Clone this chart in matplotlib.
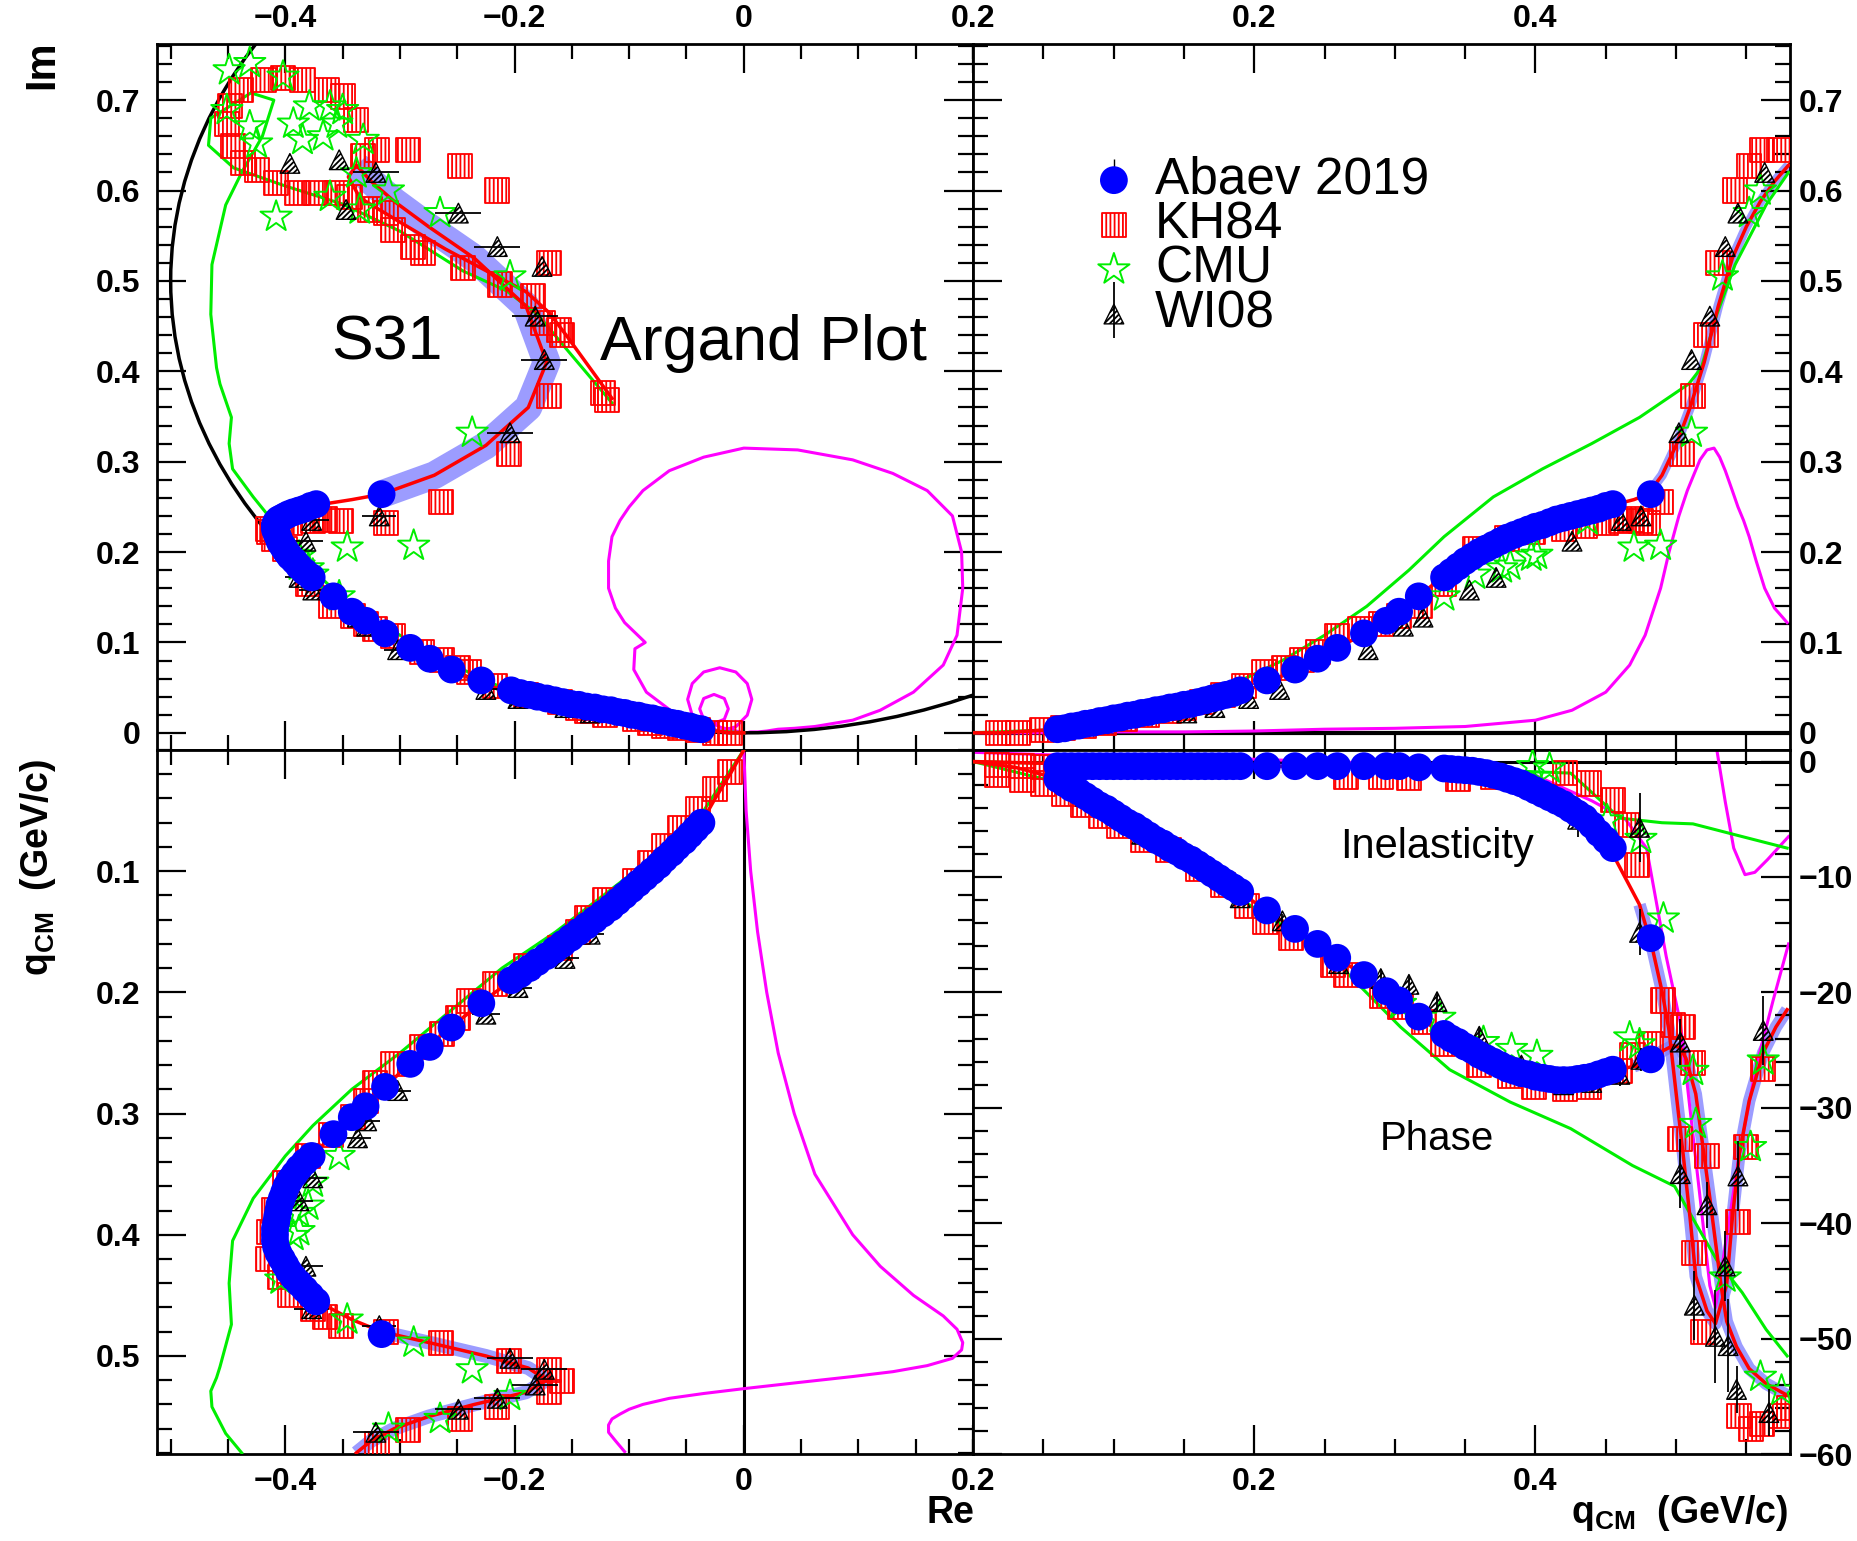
import matplotlib
matplotlib.use('Agg')
import matplotlib.pyplot as plt
from matplotlib.patches import Circle
from matplotlib.lines import Line2D
from matplotlib.legend_handler import HandlerTuple
from matplotlib.ticker import MultipleLocator, FixedLocator, FuncFormatter

plt.rcParams['font.family'] = ['Liberation Sans', 'DejaVu Sans']
plt.rcParams['font.weight'] = 'bold'
plt.rcParams['mathtext.default'] = 'regular'
plt.rcParams['hatch.linewidth'] = 1.3

RED, GREEN, BLUE, MAGENTA, BAND = '#ff0000', '#00ee00', '#0000ff', '#ff00ff', '#7b7bff'

# ---- SAID-type solution (red line) : q_cm, Re T, Im T
fit_q = [0.00, 0.02, 0.04, 0.06, 0.08, 0.10, 0.12, 0.14, 0.16, 0.18, 0.20, 0.22,
         0.24, 0.26, 0.28, 0.30, 0.32, 0.34, 0.36, 0.38, 0.40, 0.42, 0.44, 0.46,
         0.47, 0.48, 0.49, 0.50, 0.51, 0.52, 0.53, 0.54, 0.55, 0.56, 0.57, 0.58]
fit_re = [0.000, -0.012, -0.025, -0.037, -0.058, -0.080, -0.104, -0.130, -0.158, -0.187,
          -0.217, -0.244, -0.270, -0.293, -0.315, -0.337, -0.361, -0.382, -0.398, -0.406,
          -0.408, -0.403, -0.388, -0.362, -0.342, -0.316, -0.270, -0.225, -0.188, -0.172,
          -0.190, -0.235, -0.275, -0.305, -0.325, -0.338]
fit_im = [0.000, 0.000, 0.002, 0.004, 0.010, 0.016, 0.021, 0.026, 0.032, 0.040,
          0.050, 0.063, 0.078, 0.094, 0.112, 0.131, 0.155, 0.180, 0.200, 0.216,
          0.229, 0.239, 0.247, 0.254, 0.258, 0.264, 0.285, 0.318, 0.360, 0.410,
          0.472, 0.525, 0.560, 0.588, 0.610, 0.628]
# Argand continuation above the q_cm range shown
fit_re_hi = [-0.338, -0.345, -0.335, -0.300, -0.260, -0.220, -0.190, -0.170, -0.155, -0.135, -0.115]
fit_im_hi = [0.628, 0.615, 0.592, 0.565, 0.535, 0.508, 0.488, 0.465, 0.440, 0.405, 0.370]

# phase / inelasticity of the solution (degrees)
ph_q = [0.000, 0.030, 0.061, 0.090, 0.121, 0.165, 0.193, 0.210, 0.230, 0.247, 0.260, 0.278, 0.293,
        0.304, 0.317, 0.330, 0.347, 0.365, 0.382, 0.399, 0.416, 0.434, 0.451, 0.470, 0.482, 0.490,
        0.498, 0.503, 0.507, 0.514, 0.519, 0.524, 0.528, 0.532, 0.536, 0.543, 0.552, 0.564, 0.579]
ph_deg = [0.0, -0.5, -1.5, -3.5, -6.1, -9.3, -11.6, -13.0, -14.6, -15.9, -17.1, -18.5, -19.9,
          -20.8, -22.1, -23.3, -24.4, -25.8, -26.7, -27.2, -27.6, -27.4, -26.9, -26.4, -25.9, -25.1,
          -24.6, -24.8, -25.7, -28.8, -33.3, -37.8, -41.6, -45.4, -48.5, -50.7, -52.6, -53.9, -54.9]
in_q = [0.000, 0.100, 0.200, 0.300, 0.350, 0.382, 0.417, 0.438, 0.451, 0.474, 0.483, 0.490, 0.495,
        0.500, 0.505, 0.510, 0.514, 0.522, 0.528, 0.536, 0.540, 0.545, 0.552, 0.562, 0.571, 0.579]
in_deg = [0.0, -0.3, -0.4, -0.5, -0.8, -1.5, -3.3, -5.1, -7.1, -12.4, -16.1, -19.9, -23.3,
          -28.7, -34.0, -39.6, -44.6, -47.6, -48.7, -45.3, -39.6, -34.0, -29.4, -25.2, -23.0, -21.5]

# ---- second solution (green line)
grn_q = [0.00, 0.05, 0.10, 0.15, 0.18, 0.22, 0.25, 0.28, 0.31, 0.335,
         0.37, 0.405, 0.44, 0.474, 0.509, 0.518, 0.529, 0.542, 0.564, 0.58]
grn_re = [0.000, -0.035, -0.095, -0.164, -0.211, -0.262, -0.300, -0.342, -0.376, -0.400,
          -0.428, -0.446, -0.449, -0.447, -0.457, -0.460, -0.465, -0.464, -0.452, -0.438]
grn_im = [0.000, 0.003, 0.013, 0.033, 0.050, 0.080, 0.108, 0.140, 0.180, 0.217,
          0.261, 0.292, 0.320, 0.349, 0.386, 0.404, 0.463, 0.518, 0.584, 0.620]
grn_re_hi = [-0.438, -0.420, -0.410, -0.430, -0.465, -0.467, -0.445, -0.400, -0.350,
             -0.300, -0.245, -0.207, -0.180, -0.155, -0.115]
grn_im_hi = [0.620, 0.660, 0.700, 0.708, 0.680, 0.650, 0.625, 0.605, 0.585,
             0.555, 0.511, 0.489, 0.463, 0.425, 0.365]
gph_q = [0.0, 0.05, 0.10, 0.15, 0.191, 0.252, 0.304, 0.339, 0.382, 0.425, 0.469, 0.499,
         0.512, 0.529, 0.547, 0.564, 0.579]
gph_deg = [0.0, -1.5, -5.0, -9.0, -12.0, -16.6, -23.0, -26.7, -29.5, -31.8, -35.0, -36.8,
           -39.6, -43.2, -46.0, -49.2, -51.5]
gin_q = [0.0, 0.1, 0.2, 0.3, 0.38, 0.425, 0.46, 0.49, 0.512, 0.547, 0.579]
gin_deg = [0.0, -0.3, -0.4, -0.5, -0.8, -1.0, -4.9, -5.3, -5.4, -6.5, -7.5]

# ---- magenta curve
mag_q = [0.00, 0.05, 0.10, 0.15, 0.20, 0.25, 0.30, 0.35, 0.40, 0.426,
         0.45, 0.467, 0.478, 0.489, 0.495, 0.502, 0.508, 0.513, 0.517, 0.522,
         0.527, 0.531, 0.535, 0.540, 0.544, 0.548, 0.552, 0.557, 0.563, 0.570, 0.579]
mag_re = [0.000, 0.002, 0.006, 0.012, 0.020, 0.030, 0.044, 0.062, 0.095, 0.119,
          0.148, 0.174, 0.186, 0.191, 0.190, 0.182, 0.160, 0.130, 0.095, 0.047,
          0.000, -0.035, -0.065, -0.088, -0.100, -0.108, -0.115, -0.118, -0.118, -0.112, -0.104]
mag_im = [0.000, 0.000, 0.001, 0.001, 0.002, 0.004, 0.005, 0.007, 0.014, 0.025,
          0.045, 0.075, 0.108, 0.160, 0.200, 0.240, 0.268, 0.287, 0.302, 0.313,
          0.315, 0.305, 0.290, 0.268, 0.250, 0.235, 0.217, 0.190, 0.160, 0.138, 0.122]
mag_re_hi = [-0.104, -0.086, -0.095, -0.096, -0.085, -0.061, -0.041,
             -0.021, -0.007, 0.003, 0.007, 0.003, -0.007, -0.021, -0.035, -0.045, -0.049, -0.045, -0.035,
             -0.026, -0.017, -0.0135, -0.017, -0.026, -0.035, -0.0385, -0.035, -0.020, 0.000]
mag_im_hi = [0.122, 0.100, 0.093, 0.070, 0.045, 0.022, 0.009,
             0.002, 0.0067, 0.0195, 0.037, 0.0545, 0.0673, 0.072, 0.0673, 0.0545, 0.037, 0.0195, 0.0067,
             0.0105, 0.015, 0.0265, 0.038, 0.0425, 0.038, 0.0265, 0.015, 0.006, 0.000]
m1_q = [0.0, 0.1, 0.2, 0.3, 0.4, 0.44, 0.464, 0.479, 0.493, 0.503, 0.510, 0.517, 0.524,
        0.528, 0.533, 0.545, 0.557, 0.569, 0.580]
m1_deg = [0.8, 0.4, 0.2, -0.2, -1.2, -3.4, -5.0, -7.5, -16.9, -22.6, -30.2, -37.7, -45.4,
          -47.3, -43.5, -34.0, -26.4, -20.7, -15.8]
m2_q = [0.529, 0.535, 0.541, 0.549, 0.556, 0.565, 0.580]
m2_deg = [1.0, -3.5, -7.5, -9.8, -9.6, -8.5, -6.5]

# ---- Abaev 2019
ab_q = [0.060, 0.065, 0.070, 0.075, 0.080, 0.085, 0.090, 0.095, 0.100, 0.105,
        0.110, 0.115, 0.120, 0.125, 0.130, 0.135, 0.140, 0.145, 0.150, 0.155,
        0.160, 0.165, 0.170, 0.175, 0.180, 0.185, 0.190,
        0.209, 0.229, 0.245, 0.259, 0.278, 0.294, 0.303, 0.317,
        0.335, 0.340, 0.345, 0.350, 0.355, 0.360, 0.365, 0.370, 0.375, 0.380,
        0.385, 0.390, 0.395, 0.400, 0.405, 0.410, 0.415, 0.420, 0.425, 0.430,
        0.435, 0.440, 0.445, 0.450, 0.455, 0.482]
ab_re = [-0.037, -0.042, -0.047, -0.052, -0.058, -0.063, -0.069, -0.074, -0.080, -0.086,
         -0.092, -0.098, -0.104, -0.110, -0.116, -0.123, -0.130, -0.137, -0.144, -0.151,
         -0.158, -0.165, -0.172, -0.180, -0.187, -0.195, -0.203,
         -0.229, -0.255, -0.274, -0.291, -0.313, -0.330, -0.342, -0.358,
         -0.377, -0.383, -0.388, -0.392, -0.396, -0.399, -0.401, -0.403, -0.405, -0.406,
         -0.407, -0.408, -0.409, -0.409, -0.409, -0.408, -0.406, -0.403, -0.400, -0.397,
         -0.393, -0.388, -0.383, -0.378, -0.373, -0.316]
ab_im = [0.004, 0.005, 0.007, 0.008, 0.010, 0.011, 0.013, 0.014, 0.016, 0.017,
         0.019, 0.020, 0.022, 0.023, 0.025, 0.026, 0.028, 0.029, 0.031, 0.032,
         0.034, 0.036, 0.038, 0.040, 0.042, 0.044, 0.047,
         0.058, 0.070, 0.082, 0.094, 0.110, 0.124, 0.134, 0.151,
         0.172, 0.178, 0.184, 0.190, 0.195, 0.200, 0.204, 0.208, 0.212, 0.216,
         0.219, 0.222, 0.225, 0.228, 0.230, 0.233, 0.236, 0.238, 0.240, 0.242,
         0.244, 0.246, 0.248, 0.251, 0.253, 0.264]
ab_ph = [-1.5, -1.9, -2.3, -2.6, -3.0, -3.4, -3.8, -4.1, -4.5, -4.9,
         -5.3, -5.6, -6.0, -6.4, -6.8, -7.1, -7.5, -7.8, -8.2, -8.5,
         -8.9, -9.3, -9.7, -10.1, -10.5, -10.9, -11.3,
         -12.9, -14.5, -15.8, -17.0, -18.5, -19.9, -20.7, -22.1,
         -23.6, -24.0, -24.3, -24.7, -25.0, -25.4, -25.7, -26.0, -26.3, -26.6,
         -26.8, -27.0, -27.1, -27.3, -27.4, -27.5, -27.6, -27.6, -27.6, -27.5,
         -27.4, -27.3, -27.1, -26.9, -26.7, -25.8]
ab_in = [-0.4, -0.4, -0.4, -0.4, -0.4, -0.4, -0.4, -0.4, -0.4, -0.4,
         -0.4, -0.4, -0.4, -0.4, -0.4, -0.4, -0.4, -0.4, -0.4, -0.4,
         -0.4, -0.4, -0.4, -0.4, -0.4, -0.4, -0.4,
         -0.4, -0.4, -0.4, -0.4, -0.4, -0.4, -0.4, -0.5,
         -0.6, -0.65, -0.7, -0.75, -0.8, -0.9, -1.0, -1.15, -1.3, -1.5,
         -1.7, -1.9, -2.2, -2.5, -2.8, -3.1, -3.4, -3.7, -4.1, -4.5,
         -4.9, -5.5, -6.2, -6.8, -7.5, -15.3]

# ---- KH84
kh_q = [0.018, 0.032, 0.049, 0.064, 0.079, 0.093, 0.108, 0.124, 0.139, 0.150,
        0.163, 0.178, 0.193, 0.207, 0.221, 0.234, 0.245, 0.259, 0.275, 0.290,
        0.303, 0.318, 0.335, 0.357, 0.380, 0.398, 0.420, 0.435, 0.450, 0.461,
        0.468, 0.475, 0.480, 0.489, 0.504, 0.512, 0.521, 0.530, 0.542, 0.552,
        0.561, 0.573]
kh_re = [-0.012, -0.025, -0.040, -0.056, -0.070, -0.082, -0.095, -0.121, -0.137, -0.145,
         -0.160, -0.190, -0.217, -0.240, -0.249, -0.263, -0.281, -0.306, -0.322, -0.330,
         -0.341, -0.360, -0.380, -0.400, -0.410, -0.414, -0.415, -0.405, -0.396, -0.376,
         -0.365, -0.351, -0.312, -0.264, -0.205, -0.170, -0.159, -0.170, -0.215, -0.248,
         -0.293, -0.320]
kh_im = [0.000, 0.000, 0.003, 0.005, 0.008, 0.011, 0.015, 0.020, 0.024, 0.028,
         0.034, 0.042, 0.052, 0.067, 0.072, 0.081, 0.089, 0.107, 0.115, 0.120,
         0.129, 0.140, 0.165, 0.203, 0.215, 0.222, 0.225, 0.229, 0.232, 0.234,
         0.236, 0.234, 0.232, 0.255, 0.308, 0.373, 0.440, 0.520, 0.600, 0.627,
         0.645, 0.645]
kh_re_hi = [-0.332, -0.338, -0.350, -0.364, -0.385, -0.402, -0.419, -0.439, -0.448, -0.451,
            -0.446, -0.437, -0.425, -0.408, -0.390, -0.373, -0.355, -0.344, -0.326, -0.312,
            -0.306, -0.289, -0.280, -0.245, -0.213, -0.184, -0.175, -0.161, -0.123, -0.119]
kh_im_hi = [0.638, 0.678, 0.704, 0.711, 0.722, 0.724, 0.722, 0.711, 0.693, 0.674,
            0.649, 0.630, 0.623, 0.608, 0.597, 0.597, 0.597, 0.593, 0.579, 0.575,
            0.556, 0.538, 0.531, 0.514, 0.496, 0.483, 0.453, 0.446, 0.376, 0.368]
kh_aq = [0.017, 0.035, 0.050, 0.017, 0.035, 0.050, 0.065, 0.078, 0.091, 0.104,
         0.121, 0.139, 0.160, 0.178, 0.195, 0.208, 0.226, 0.256, 0.265, 0.291,
         0.304, 0.321, 0.334, 0.360, 0.382, 0.399, 0.421, 0.438, 0.460, 0.469,
         0.482, 0.265, 0.290, 0.310, 0.345, 0.370, 0.421, 0.438, 0.455, 0.465,
         0.472, 0.491, 0.498, 0.505, 0.512, 0.503, 0.522, 0.513, 0.519, 0.544,
         0.550, 0.562, 0.545, 0.553, 0.561, 0.575, 0.580]
kh_adeg = [-0.3, -0.4, -0.5, -1.2, -1.6, -1.9, -2.8, -3.8, -4.7, -5.6,
           -6.8, -7.7, -9.3, -10.7, -12.5, -13.9, -15.3, -17.6, -18.5, -20.3,
           -21.3, -22.6, -24.5, -26.3, -27.2, -28.2, -28.4, -28.2, -26.8, -25.4,
           -24.5, -1.3, -1.3, -1.4, -1.5, -1.3, -1.0, -1.9, -3.3, -5.5,
           -9.0, -20.7, -22.8, -23.0, -26.1, -32.7, -34.2, -42.6, -49.4, -39.9,
           -33.4, -26.6, -56.7, -57.8, -57.4, -56.7, -56.0]

# ---- CMU
cmu_q = [0.335, 0.357, 0.376, 0.382, 0.397, 0.401, 0.437, 0.470, 0.489, 0.511, 0.533, 0.552, 0.560]
cmu_re = [-0.353, -0.376, -0.380, -0.388, -0.388, -0.393, -0.404, -0.346, -0.288, -0.237,
          -0.204, -0.265, -0.310]
cmu_im = [0.151, 0.175, 0.182, 0.185, 0.195, 0.197, 0.235, 0.205, 0.207, 0.332, 0.505, 0.575, 0.600]
cmu_re_hi = [-0.431, -0.449, -0.402, -0.451, -0.431, -0.425, -0.379, -0.393, -0.361, -0.350,
             -0.355, -0.385, -0.367, -0.332, -0.338, -0.361, -0.335, -0.408]
cmu_im_hi = [0.741, 0.733, 0.726, 0.689, 0.671, 0.652, 0.693, 0.674, 0.693, 0.689,
             0.674, 0.656, 0.660, 0.656, 0.619, 0.593, 0.579, 0.571]
cmu_aq = [0.304, 0.332, 0.363, 0.383, 0.401, 0.467, 0.474, 0.398, 0.410, 0.451,
          0.475, 0.491, 0.512, 0.514, 0.535, 0.553, 0.562, 0.560, 0.575]
cmu_adeg = [-21.0, -22.2, -24.3, -24.9, -25.5, -23.9, -24.5, -0.4, -0.6, -5.1,
            -6.7, -13.6, -26.8, -31.4, -44.7, -33.4, -25.9, -53.3, -54.5]

# ---- WI08
wi_q = [0.152, 0.172, 0.196, 0.218, 0.281, 0.306, 0.320, 0.353, 0.372, 0.426,
        0.461, 0.475, 0.502, 0.511, 0.524, 0.535, 0.544, 0.563]
wi_re = [-0.134, -0.156, -0.197, -0.225, -0.302, -0.329, -0.337, -0.376, -0.388, -0.382,
         -0.377, -0.318, -0.204, -0.174, -0.182, -0.215, -0.249, -0.321]
wi_im = [0.022, 0.028, 0.038, 0.048, 0.092, 0.118, 0.128, 0.158, 0.172, 0.212,
         0.235, 0.240, 0.332, 0.413, 0.461, 0.538, 0.575, 0.620]
wi_dre = [0.012, 0.012, 0.012, 0.012, 0.012, 0.012, 0.012, 0.012, 0.012, 0.015,
          0.015, 0.015, 0.020, 0.020, 0.020, 0.020, 0.020, 0.020]
wi_re_hi = [-0.396, -0.353, -0.347, -0.176]
wi_im_hi = [0.630, 0.634, 0.579, 0.516]
wi_aq = [0.080, 0.120, 0.160, 0.190, 0.220, 0.260, 0.290, 0.310, 0.330, 0.360,
         0.390, 0.420, 0.440, 0.460, 0.475, 0.430, 0.474, 0.474, 0.503, 0.503,
         0.522, 0.513, 0.528, 0.537, 0.535, 0.544, 0.562, 0.543, 0.566]
wi_adeg = [-3.0, -6.3, -8.8, -11.8, -13.8, -17.5, -18.8, -19.3, -20.8, -23.8,
           -26.3, -28.0, -27.8, -27.1, -25.8, -5.0, -5.7, -14.8, -24.3, -35.7,
           -38.4, -47.1, -49.8, -50.6, -43.7, -35.9, -23.3, -54.4, -56.4]
wi_derr = [0.6, 0.6, 0.6, 0.6, 0.6, 0.8, 0.8, 0.8, 0.8, 0.8,
           0.8, 0.8, 0.8, 1.0, 1.0, 1.5, 3.0, 2.0, 2.0, 3.0,
           2.0, 3.0, 4.0, 4.0, 3.0, 3.0, 3.0, 2.0, 2.0]

RE_LIM = (-0.512, 0.2)
IM_LIM = (-0.019, 0.762)
Q_LIM = (0.0, 0.581)
DEG_LIM = (-60.0, 1.0)

fig = plt.figure(figsize=(18.57, 15.41), dpi=100)
ax_tl = fig.add_axes([0.0845, 0.5133, 0.4395, 0.4581])
ax_tr = fig.add_axes([0.5240, 0.5133, 0.4399, 0.4581])
ax_bl = fig.add_axes([0.0845, 0.0564, 0.4395, 0.4569])
ax_br = fig.add_axes([0.5240, 0.0564, 0.4399, 0.4569])

ab_kw = dict(marker='o', s=400, color=BLUE, edgecolors='none', zorder=8)
kh_kw = dict(marker='s', s=300, facecolors='none', edgecolors=RED, hatch='||||', linewidths=1.3, zorder=5)
cmu_kw = dict(marker='*', s=560, facecolors='none', edgecolors=GREEN, linewidths=1.4, zorder=6)
wi_kw = dict(marker='^', s=200, facecolors='none', edgecolors='black', hatch='//////', linewidths=1.0, zorder=7)

band = [i for i, q in enumerate(fit_q) if q >= 0.475]

# --- Argand plot
ax_tl.add_patch(Circle((0.0, 0.5), 0.5, fill=False, ec='black', lw=2.5, zorder=3))
ax_tl.plot([fit_re[i] for i in band], [fit_im[i] for i in band], color=BAND, lw=20,
           solid_capstyle='butt', alpha=0.75, zorder=1)
ax_tl.plot(mag_re + mag_re_hi, mag_im + mag_im_hi, color=MAGENTA, lw=2.2, zorder=2)
ax_tl.plot(grn_re + grn_re_hi, grn_im + grn_im_hi, color=GREEN, lw=2.2, zorder=3)
ax_tl.plot(fit_re + fit_re_hi, fit_im + fit_im_hi, color=RED, lw=2.5, zorder=4)
ax_tl.scatter(kh_re + kh_re_hi, kh_im + kh_im_hi, **kh_kw)
ax_tl.scatter(cmu_re + cmu_re_hi, cmu_im + cmu_im_hi, **cmu_kw)
ax_tl.errorbar(wi_re, wi_im, xerr=wi_dre, fmt='none', ecolor='black', elinewidth=1.3, zorder=7)
ax_tl.scatter(wi_re + wi_re_hi, wi_im + wi_im_hi, **wi_kw)
ax_tl.scatter(ab_re, ab_im, **ab_kw)

# --- Im vs q
ax_tr.axhline(0, color='black', lw=3, zorder=2)
ax_tr.plot([fit_q[i] for i in band], [fit_im[i] for i in band], color=BAND, lw=7,
           solid_capstyle='butt', alpha=0.75, zorder=1)
ax_tr.plot(mag_q, mag_im, color=MAGENTA, lw=2.2, zorder=2)
ax_tr.plot(grn_q, grn_im, color=GREEN, lw=2.2, zorder=3)
ax_tr.plot(fit_q, fit_im, color=RED, lw=2.5, zorder=4)
ax_tr.scatter(kh_q, kh_im, **kh_kw)
ax_tr.scatter(cmu_q, cmu_im, **cmu_kw)
sc_wi = ax_tr.scatter(wi_q, wi_im, **wi_kw)
ax_tr.scatter(ab_q, ab_im, **ab_kw)

# --- q vs Re
ax_bl.axvline(0, color='black', lw=2.2, zorder=2)
ax_bl.plot([fit_re[i] for i in band], [fit_q[i] for i in band], color=BAND, lw=10,
           solid_capstyle='butt', alpha=0.75, zorder=1)
ax_bl.plot(mag_re, mag_q, color=MAGENTA, lw=2.2, zorder=2)
ax_bl.plot(grn_re, grn_q, color=GREEN, lw=2.2, zorder=3)
ax_bl.plot(fit_re, fit_q, color=RED, lw=2.5, zorder=4)
ax_bl.scatter(kh_re, kh_q, **kh_kw)
ax_bl.scatter(cmu_re, cmu_q, **cmu_kw)
ax_bl.errorbar(wi_re, wi_q, xerr=wi_dre, fmt='none', ecolor='black', elinewidth=1.3, zorder=7)
ax_bl.scatter(wi_re, wi_q, **wi_kw)
ax_bl.scatter(ab_re, ab_q, **ab_kw)

# --- phase and inelasticity vs q
ax_br.axhline(0, color='black', lw=2.2, zorder=2)
for qq, dd in ((ph_q, ph_deg), (in_q, in_deg)):
    sel = [i for i, q in enumerate(qq) if q >= 0.47]
    ax_br.plot([qq[i] for i in sel], [dd[i] for i in sel], color=BAND, lw=9,
               solid_capstyle='butt', alpha=0.75, zorder=1)
ax_br.plot(m1_q, m1_deg, color=MAGENTA, lw=2.2, zorder=2)
ax_br.plot(m2_q, m2_deg, color=MAGENTA, lw=2.2, zorder=2)
ax_br.plot(gph_q, gph_deg, color=GREEN, lw=2.2, zorder=3)
ax_br.plot(gin_q, gin_deg, color=GREEN, lw=2.2, zorder=3)
ax_br.plot(ph_q, ph_deg, color=RED, lw=2.5, zorder=4)
ax_br.plot(in_q, in_deg, color=RED, lw=2.5, zorder=4)
sc_kh = ax_br.scatter(kh_aq, kh_adeg, **kh_kw)
sc_cmu = ax_br.scatter(cmu_aq, cmu_adeg, **cmu_kw)
ax_br.errorbar(wi_aq, wi_adeg, yerr=wi_derr, fmt='none', ecolor='black', elinewidth=1.3, zorder=7)
ax_br.scatter(wi_aq, wi_adeg, **wi_kw)
sc_ab = ax_br.scatter(ab_q, ab_ph, **ab_kw)
ax_br.scatter(ab_q, ab_in, **ab_kw)

# --- axes cosmetics
fmt = FuncFormatter(lambda v, pos: ('%g' % round(v, 6)).replace('-', '\u2212'))
for ax in (ax_tl, ax_tr, ax_bl, ax_br):
    ax.tick_params(which='both', direction='in', top=True, bottom=True, left=True, right=True,
                   width=1.6, labelsize=23)
    ax.tick_params(which='major', length=21)
    ax.tick_params(which='minor', length=11)
    for sp in ax.spines.values():
        sp.set_linewidth(2)
    ax.xaxis.set_major_formatter(fmt)
    ax.yaxis.set_major_formatter(fmt)

for ax in (ax_tl, ax_bl):
    ax.set_xlim(*RE_LIM)
    ax.xaxis.set_major_locator(FixedLocator([-0.4, -0.2, 0.0, 0.2]))
    ax.xaxis.set_minor_locator(MultipleLocator(0.05))
for ax in (ax_tr, ax_br):
    ax.set_xlim(*Q_LIM)
    ax.xaxis.set_major_locator(FixedLocator([0.2, 0.4]))
    ax.xaxis.set_minor_locator(MultipleLocator(0.05))
for ax in (ax_tl, ax_tr):
    ax.set_ylim(*IM_LIM)
    ax.yaxis.set_major_locator(MultipleLocator(0.1))
    ax.yaxis.set_minor_locator(MultipleLocator(0.02))
ax_bl.set_ylim(Q_LIM[1], Q_LIM[0])
ax_bl.yaxis.set_major_locator(FixedLocator([0.1, 0.2, 0.3, 0.4, 0.5]))
ax_bl.yaxis.set_minor_locator(MultipleLocator(0.02))
ax_br.set_ylim(*DEG_LIM)
ax_br.yaxis.set_major_locator(MultipleLocator(10))
ax_br.yaxis.set_minor_locator(MultipleLocator(2))

ax_tl.tick_params(labeltop=True, labelbottom=False, labelleft=True, labelright=False)
ax_tr.tick_params(labeltop=True, labelbottom=False, labelleft=False, labelright=True)
ax_bl.tick_params(labeltop=False, labelbottom=True, labelleft=True, labelright=False)
ax_br.tick_params(labeltop=False, labelbottom=True, labelleft=False, labelright=True)
for ax in (ax_tl, ax_tr):
    ax.tick_params(axis='x', which='major', pad=7)
for ax in (ax_bl, ax_br):
    ax.tick_params(axis='x', which='major', pad=9)
for ax in (ax_tl, ax_bl):
    ax.tick_params(axis='y', which='major', pad=12)
for ax in (ax_tr, ax_br):
    ax.tick_params(axis='y', which='major', pad=6)

# --- labels
fig.text(0.023, 0.958, 'Im', rotation=90, ha='center', va='center', fontsize=30)
fig.text(0.512, 0.018, 'Re', ha='center', va='center', fontsize=27)
fig.text(0.963, 0.018, r'q$_{CM}$  (GeV/c)', ha='right', va='center', fontsize=27)
fig.text(0.0205, 0.437, r'q$_{CM}$  (GeV/c)', rotation=90, ha='center', va='center', fontsize=27)
fig.text(0.2085, 0.7774, 'S31', ha='center', va='center', fontsize=45, fontweight='normal')
fig.text(0.4113, 0.7774, 'Argand Plot', ha='center', va='center', fontsize=45, fontweight='normal')
fig.text(0.7736, 0.4505, 'Inelasticity', ha='center', va='center', fontsize=30, fontweight='normal')
fig.text(0.7736, 0.2607, 'Phase', ha='center', va='center', fontsize=29, fontweight='normal')

bar_ab = Line2D([], [], ls='none', marker='|', ms=24, mew=1.0, color='black')
bar_wi = Line2D([], [], ls='none', marker='|', ms=40, mew=1.3, color='black')
fig.legend([(bar_ab, sc_ab), sc_kh, sc_cmu, (bar_wi, sc_wi)],
           ['Abaev 2019', 'KH84', 'CMU', 'WI08'],
           handler_map={tuple: HandlerTuple(ndivide=1, pad=0)},
           loc='upper left', bbox_to_anchor=(0.586, 0.899), frameon=False,
           prop={'size': 37, 'weight': 'normal'}, handlelength=1.0, handletextpad=0.3,
           labelspacing=-0.085, borderpad=0, borderaxespad=0, scatterpoints=1)

fig.savefig('out.png', dpi=100)
